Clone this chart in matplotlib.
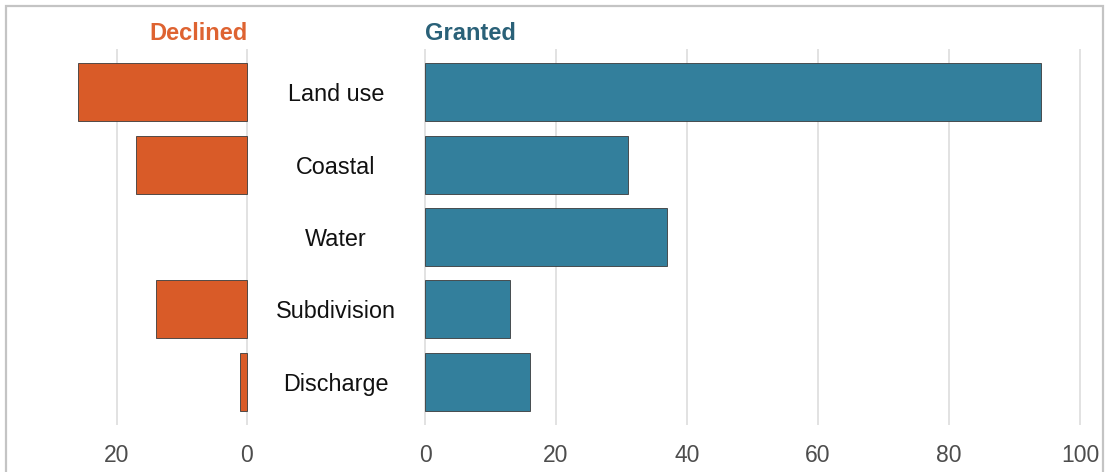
import numpy as np
import matplotlib.pyplot as plt
import matplotlib.transforms as mtransforms
from matplotlib.patches import Rectangle

plt.rcParams['font.family'] = ['Liberation Sans', 'DejaVu Sans']

categories = ['Land use', 'Coastal', 'Water', 'Subdivision', 'Discharge']
declined = [26, 17, 0, 14, 1]
granted = [94, 31, 37, 13, 16]

declined_ticks = [0, 20]
granted_ticks = [0, 20, 40, 60, 80, 100]

orange = '#D95B28'
teal = '#337F9C'
grid_col = '#dadada'
tick_col = '#4d4d4d'

W, H = 1105, 472
fig = plt.figure(figsize=(W / 100, H / 100), dpi=100)

y = np.arange(len(categories))

# panel geometry (pixels -> figure fractions)
bot = 1 - 425 / H
top = 1 - 49 / H
ax_l = fig.add_axes([68.25 / W, bot, (253.5 - 68.25) / W, top - bot])
ax_r = fig.add_axes([418.45 / W, bot, (1086.55 - 418.45) / W, top - bot])

# zero-length bars get no outline
lw_l = [0.6 if v > 0 else 0 for v in declined]
lw_r = [0.6 if v > 0 else 0 for v in granted]
ax_l.barh(y, declined, height=0.8, color=orange, edgecolor='#3a3a3a', linewidth=lw_l, zorder=3)
ax_r.barh(y, granted, height=0.8, color=teal, edgecolor='#3a3a3a', linewidth=lw_r, zorder=3)

ax_l.set_xlim(27.5, -1)
ax_r.set_xlim(-1, 101)
ax_l.set_xticks(declined_ticks)
ax_r.set_xticks(granted_ticks)

for ax in (ax_l, ax_r):
    ax.set_ylim(len(categories) - 0.4, -0.6)
    ax.set_yticks([])
    for s in ax.spines.values():
        s.set_visible(False)
    ax.grid(axis='x', color=grid_col, linewidth=1.1, zorder=0)
    ax.tick_params(axis='x', length=0, pad=14, labelsize=16.5, labelcolor=tick_col)
    ax.set_facecolor('none')

# category labels between the panels
tr = mtransforms.blended_transform_factory(fig.transFigure, ax_l.transData)
for yi, lab in zip(y, categories):
    fig.text(336 / W, yi, lab, transform=tr, ha='center', va='center_baseline',
             fontsize=16.8, color='#111111')

# panel titles
fig.text(248 / W, 1 - 40 / H, 'Declined', ha='right', va='baseline',
         fontsize=17, fontweight='bold', color='#DE6331')
fig.text(425 / W, 1 - 40 / H, 'Granted', ha='left', va='baseline',
         fontsize=17, fontweight='bold', color='#2A6178')

# outer frame
fig.patches.append(Rectangle((6 / W, -0.02), (1103 - 6) / W, 1.02 - 6 / H,
                             transform=fig.transFigure, fill=False,
                             edgecolor='#c4c4c4', linewidth=1.6))

fig.savefig('out.png', dpi=100, facecolor='white')
